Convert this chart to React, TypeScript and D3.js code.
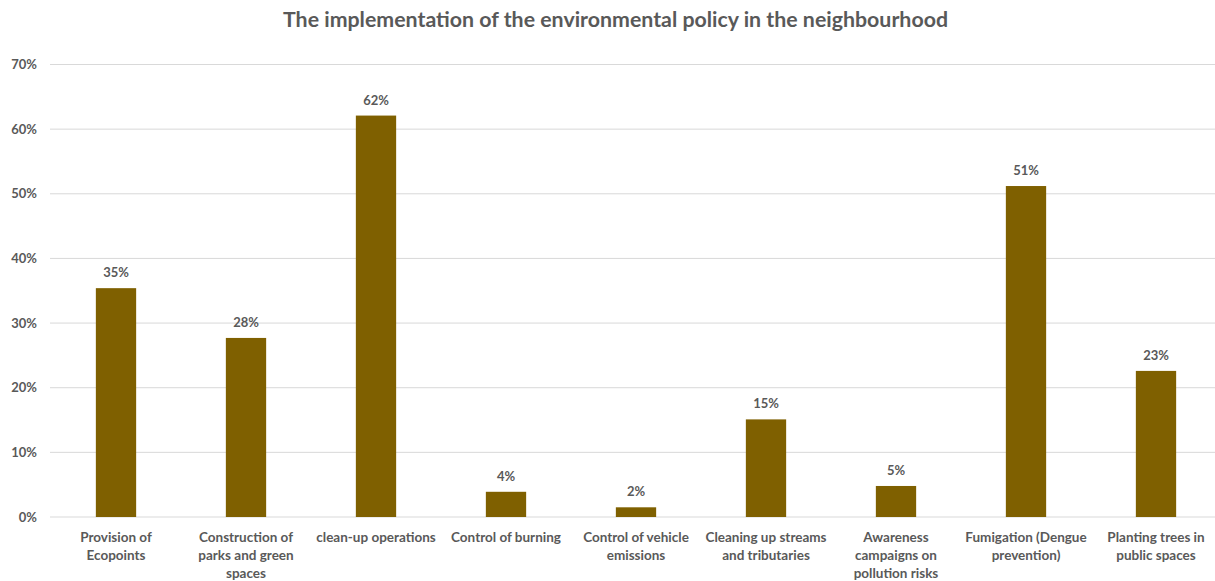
import React from "react";
import * as d3 from "d3";

const categories = [
  "Provision of\nEcopoints",
  "Construction of\nparks and green\nspaces",
  "clean-up operations",
  "Control of burning",
  "Control of vehicle\nemissions",
  "Cleaning up streams\nand tributaries",
  "Awareness\ncampaigns on\npollution risks",
  "Fumigation (Dengue\nprevention)",
  "Planting trees in\npublic spaces",
];
const values = [0.354, 0.277, 0.621, 0.039, 0.015, 0.151, 0.048, 0.512, 0.226];
const yTicks = [0, 0.1, 0.2, 0.3, 0.4, 0.5, 0.6, 0.7];
const title = "The implementation of the environmental policy in the neighbourhood";

const W = 1215;
const H = 581;
const FONT = "Lato, 'Open Sans', sans-serif";
const TEXT = "#595959";

export default function App() {
  const x = d3
    .scaleBand<string>()
    .domain(categories)
    .range([51, 1221])
    .paddingInner(0.69)
    .paddingOuter(0.345);
  const y = d3.scaleLinear().domain([0, 0.7]).range([517, 64.5]);
  const pct = d3.format(".0%");

  return (
    <svg
      width={W}
      height={H}
      style={{ position: "absolute", left: 0, top: 0, background: "#fff" }}
      fontFamily={FONT}
    >
      <text
        x={615.5}
        y={27}
        textAnchor="middle"
        fontSize={21}
        fontWeight={700}
        fill={TEXT}
        textLength={665}
        lengthAdjust="spacingAndGlyphs"
      >
        {title}
      </text>
      {yTicks.map((t) => (
        <g key={t}>
          <line x1={50} x2={W} y1={y(t)} y2={y(t)} stroke="#D9D9D9" strokeWidth={1} />
          <text
            x={37}
            y={y(t)}
            dy="0.35em"
            textAnchor="end"
            fontSize={13}
            fontWeight={700}
            fill={TEXT}
          >
            {pct(t)}
          </text>
        </g>
      ))}
      {categories.map((c, i) => {
        const bx = x(c)!;
        const cx = bx + x.bandwidth() / 2;
        const lines = c.split("\n");
        return (
          <g key={c}>
            <rect
              x={bx}
              y={y(values[i])}
              width={x.bandwidth()}
              height={y(0) - y(values[i])}
              fill="#7F6000"
            />
            <text
              x={cx}
              y={y(values[i]) - 11}
              textAnchor="middle"
              fontSize={13}
              fontWeight={700}
              fill={TEXT}
            >
              {pct(values[i])}
            </text>
            <text textAnchor="middle" fontSize={13.5} fontWeight={700} fill={TEXT}>
              {lines.map((l, j) => (
                <tspan key={j} x={cx} y={542 + j * 18}>
                  {l}
                </tspan>
              ))}
            </text>
          </g>
        );
      })}
    </svg>
  );
}
